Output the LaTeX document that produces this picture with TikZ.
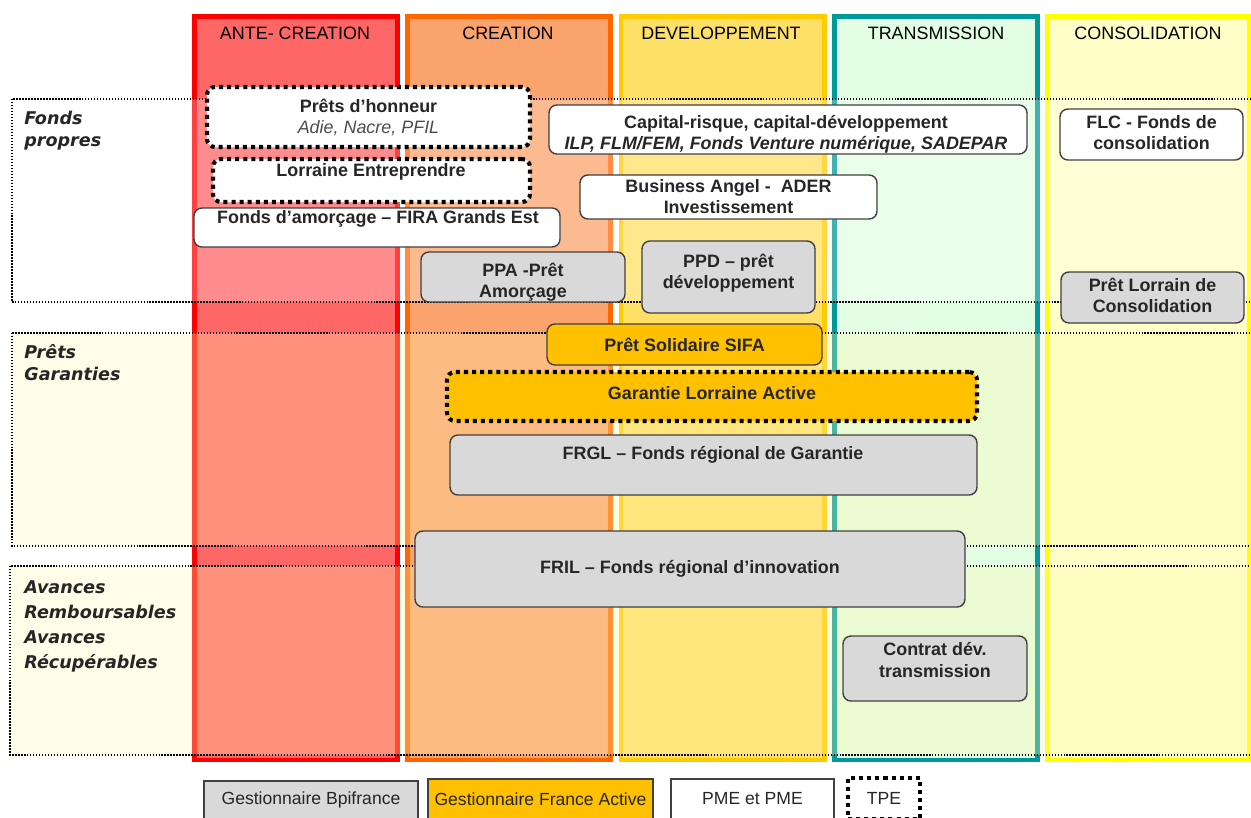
\documentclass[tikz,border=0pt]{standalone}
\usepackage{fontspec}
\setmainfont{Liberation Sans}
\newfontfamily\verdfont{DejaVu Sans}
\usepackage{tikz}

\definecolor{colRed}{HTML}{FF0000}    \definecolor{fillRed}{HTML}{FF6666}
\definecolor{colOrange}{HTML}{FF6600} \definecolor{fillOrange}{HTML}{FBA36D}
\definecolor{colYellow}{HTML}{FFCC00} \definecolor{fillYellow}{HTML}{FFE066}
\definecolor{colTeal}{HTML}{009999}   \definecolor{fillTeal}{HTML}{E3FFE3}
\definecolor{colLemon}{HTML}{FFFF00}  \definecolor{fillLemon}{HTML}{FFFFC8}
\definecolor{boxGray}{HTML}{D9D9D9}
\definecolor{boxOrange}{HTML}{FFC000}
\definecolor{bandCream}{HTML}{FFF7B0}

\newcommand\bxfont{\fontsize{10.2}{12}\selectfont\bfseries}
\newcommand\hdfont{\fontsize{10.2}{12}\selectfont}
\newcommand\sdfont{\verdfont\fontsize{10}{12.5}\selectfont\bfseries\itshape}
\newcommand\lgfont{\fontsize{10}{12}\selectfont\mdseries}

\begin{document}
\begin{tikzpicture}[x=0.02cm, y=-0.02cm,
    every node/.style={font=\bxfont, text=black!85, align=center, inner sep=0pt},
    head/.style={font=\hdfont, text=black},
    side/.style={font=\sdfont, anchor=north west, align=left},
    colbar/.style={line width=2.8pt},
    band/.style={draw=black, line width=0.8pt, dash pattern=on 0.8pt off 0.9pt},
    rbox/.style={draw=black!75, line width=0.8pt, rounded corners=4.5pt},
    wbox/.style={rbox, fill=white},
    gbox/.style={rbox, fill=boxGray},
    obox/.style={rbox, fill=boxOrange},
    tpebox/.style={draw=black, line width=2.3pt, dash pattern=on 2.3pt off 2.3pt},
    legbox/.style={draw=black!75, line width=0.8pt, font=\lgfont}]
    %---- one pixel of the reference
    \def\pxl{0.02cm}
    \useasboundingbox (0,0) rectangle (1251,818);

    %---- phases (columns)
    \draw[colbar, draw=colRed,    fill=fillRed]    (194.5,16.5) rectangle (397.5,760);
    \draw[colbar, draw=colOrange, fill=fillOrange] (407.5,16.5) rectangle (610.5,760);
    \draw[colbar, draw=colYellow, fill=fillYellow] (621,16.5)   rectangle (824.5,760);
    \draw[colbar, draw=colTeal,   fill=fillTeal]   (834.5,16.5) rectangle (1037.5,760);
    \draw[colbar, draw=colLemon,  fill=fillLemon]  (1047.5,16.5) rectangle (1249,760);

    \node[head] (hAnte)  at (295,33)  {ANTE- CREATION};
    \node[head] (hCrea)  at (508,33)  {CREATION};
    \node[head] (hDev)   at (721,33)  {DEVELOPPEMENT};
    \node[head] (hTrans) at (936,33)  {TRANSMISSION};
    \node[head] (hCons)  at (1148,33) {CONSOLIDATION};

    %---- bands (types of funding)
    \draw[band, fill=white, fill opacity=0.25]     (12,99)  rectangle (1256,302);
    \draw[band, fill=bandCream, fill opacity=0.3]  (12,333) rectangle (1256,546);
    \draw[band, fill=bandCream, fill opacity=0.3]  (10,566) rectangle (1256,755);

    \node[side] (sFonds) at (24,111) {Fonds\\propres};
    \node[side] (sPrets) at (24,344) {Prêts\\Garanties};
    \node[side, font=\sdfont\fontsize{10}{14.2}\selectfont] (sAvances) at (24,580)
      {Avances\\Remboursables\\Avances\\Récupérables};

    %---- fonds propres
    \node[wbox, tpebox, minimum width=323*\pxl, minimum height=60*\pxl] (hon) at (368.5,117)
      {Prêts d’honneur\\{\mdseries\itshape\color{black!70}Adie, Nacre, PFIL}};
    \node[wbox, tpebox, minimum width=317*\pxl, minimum height=43*\pxl] (lent) at (371.5,180.5) {};
    \node (lentT) at (371,172) {Lorraine Entreprendre};
    \node[wbox, minimum width=366*\pxl, minimum height=39*\pxl] (fira) at (377,227.5) {};
    \node (firaT) at (378,219) {Fonds d’amorçage – FIRA Grands Est};
    \node[wbox, minimum width=478*\pxl, minimum height=49*\pxl] (cap) at (788,129.5) {};
    \node (capT) at (786,134)
      {Capital-risque, capital-développement\\{\itshape ILP, FLM/FEM, Fonds Venture numérique, SADEPAR}};
    \node[wbox, minimum width=297*\pxl, minimum height=44*\pxl] (ader) at (728.5,197)
      {Business Angel -\ \ ADER\\Investissement};
    \node[wbox, minimum width=183*\pxl, minimum height=51*\pxl] (flc) at (1151.5,134.5) {};
    \node (flcT) at (1151.5,132.5) {FLC - Fonds de\\consolidation};
    \node[gbox, minimum width=204*\pxl, minimum height=50*\pxl] (ppa) at (523,277) {};
    \node (ppaT) at (523,282) {PPA -Prêt\\Amorçage};
    \node[gbox, minimum width=173*\pxl, minimum height=72*\pxl] (ppd) at (728.5,277) {};
    \node (ppdT) at (728.5,273.5) {PPD – prêt\\développement};
    \node[gbox, minimum width=183*\pxl, minimum height=51*\pxl] (plc) at (1152.5,297.5) {};
    \node (plcT) at (1152.5,295.5) {Prêt Lorrain de\\Consolidation};

    %---- prets / garanties
    \node[obox, minimum width=275*\pxl, minimum height=41*\pxl] (sifa) at (684.5,344.5)
      {Prêt Solidaire SIFA};
    \node[obox, tpebox, minimum width=530*\pxl, minimum height=49*\pxl] (gla) at (712,396.5) {};
    \node (glaT) at (712,393) {Garantie Lorraine Active};
    \node[gbox, minimum width=527*\pxl, minimum height=60*\pxl] (frgl) at (713.5,465) {};
    \node (frglT) at (713,455) {FRGL – Fonds régional de Garantie};

    %---- avances
    \node[gbox, minimum width=550*\pxl, minimum height=76*\pxl] (fril) at (690,569)
      {FRIL – Fonds régional d’innovation};
    \node[gbox, minimum width=184*\pxl, minimum height=65*\pxl] (cdt) at (935,668.5) {};
    \node (cdtT) at (935,660) {Contrat dév.\\transmission};

    %---- legend
    \node[legbox, fill=boxGray,   minimum width=214*\pxl, minimum height=38*\pxl] (lgBpi) at (311,800)
      {Gestionnaire Bpifrance};
    \node[legbox, fill=boxOrange, minimum width=225*\pxl, minimum height=40*\pxl] (lgFA) at (540.5,799)
      {Gestionnaire France Active};
    \node[legbox, fill=white,     minimum width=163*\pxl, minimum height=40*\pxl] (lgPme) at (752.5,799)
      {PME et PME};
    \node[legbox, tpebox, minimum width=72*\pxl, minimum height=41*\pxl] (lgTpe) at (884,798.5)
      {TPE};
\end{tikzpicture}
\end{document}
